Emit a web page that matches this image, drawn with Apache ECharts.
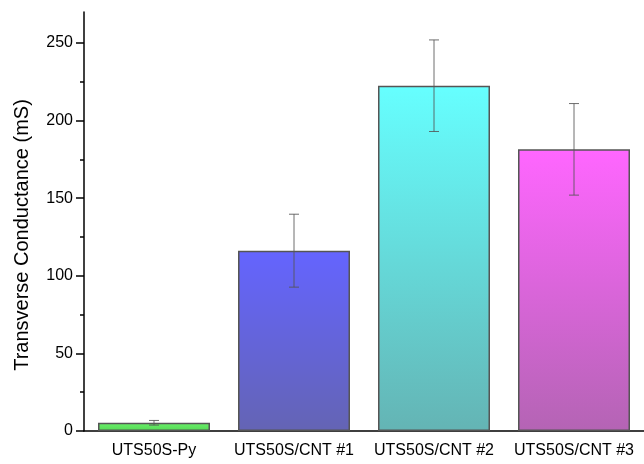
<!DOCTYPE html>
<html><head><meta charset="utf-8">
<script src="https://cdn.jsdelivr.net/npm/echarts@6/dist/echarts.min.js"></script>
<style>html,body{margin:0;padding:0;background:#fff}#c{width:644px;height:464px}</style>
</head><body><div id="c"></div>
<script>
const categories = ['UTS50S-Py', 'UTS50S/CNT #1', 'UTS50S/CNT #2', 'UTS50S/CNT #3'];
const values = [5.3, 116.2, 222.5, 181.5];
const errors = [1.5, 23.5, 29.5, 29.5];
const yTicks = [0, 50, 100, 150, 200, 250];
const yMinorTicks = [25, 75, 125, 175, 225];
const topColors = ['#6af06a', '#6464ff', '#66ffff', '#ff66ff'];
const bottomColors = ['#55d855', '#6464b4', '#64b4b4', '#b464b4'];

const font = 'Liberation Sans, Arial, sans-serif';
const chart = echarts.init(document.getElementById('c'));
chart.setOption({
  animation: false,
  grid: { left: 84, right: -4, top: 12, bottom: 33 },
  xAxis: [{
    type: 'category', data: categories,
    axisLine: { lineStyle: { color: '#000', width: 1.5 } },
    axisTick: { alignWithLabel: true, length: 7, lineStyle: { color: '#000', width: 1.5 } },
    axisLabel: { color: '#000', fontSize: 16, fontFamily: font, margin: 12, interval: 0 },
    splitLine: { show: false }
  }, {
    type: 'category', data: categories, position: 'bottom',
    axisLine: { show: false },
    axisTick: { length: 4, lineStyle: { color: '#000', width: 1.5 } },
    axisLabel: { show: false }
  }],
  yAxis: [{
    type: 'value', min: 0, max: 270, interval: 50,
    axisLine: { show: true, lineStyle: { color: '#000', width: 1.5 } },
    axisTick: { show: true, length: 8, customValues: yTicks, lineStyle: { color: '#000', width: 1.5 } },
    axisLabel: { color: '#000', fontSize: 16, fontFamily: font, margin: 11, customValues: yTicks },
    splitLine: { show: false }
  }, {
    type: 'value', min: 0, max: 270, position: 'left',
    axisLine: { show: false },
    axisTick: { show: true, length: 4, customValues: yMinorTicks, lineStyle: { color: '#000', width: 1.5 } },
    axisLabel: { show: false, customValues: yMinorTicks },
    splitLine: { show: false }
  }],
  graphic: [{
    type: 'text', x: 22, y: 235, rotation: Math.PI / 2,
    style: { text: 'Transverse Conductance (mS)', fill: '#000', font: '20px ' + font,
      textAlign: 'center', textVerticalAlign: 'middle' }
  }],
  series: [{
    type: 'bar', barWidth: '80%',
    data: values.map((v, i) => ({
      value: v,
      itemStyle: {
        color: new echarts.graphic.LinearGradient(0, 0, 0, 1, [
          { offset: 0, color: topColors[i] }, { offset: 1, color: bottomColors[i] }]),
        borderColor: '#555', borderWidth: 1.5
      }
    }))
  }, {
    type: 'custom',
    data: values.map((v, i) => [i, v - errors[i], v + errors[i]]),
    renderItem: function (params, api) {
      const lo = api.coord([api.value(0), api.value(1)]);
      const hi = api.coord([api.value(0), api.value(2)]);
      const hw = 5;
      const st = { stroke: '#555', lineWidth: 1, opacity: 0.85 };
      return { type: 'group', children: [
        { type: 'line', shape: { x1: lo[0], y1: lo[1], x2: hi[0], y2: hi[1] }, style: st },
        { type: 'line', shape: { x1: lo[0] - hw, y1: lo[1], x2: lo[0] + hw, y2: lo[1] }, style: st },
        { type: 'line', shape: { x1: hi[0] - hw, y1: hi[1], x2: hi[0] + hw, y2: hi[1] }, style: st }
      ]};
    },
    z: 5
  }]
});
</script></body></html>
